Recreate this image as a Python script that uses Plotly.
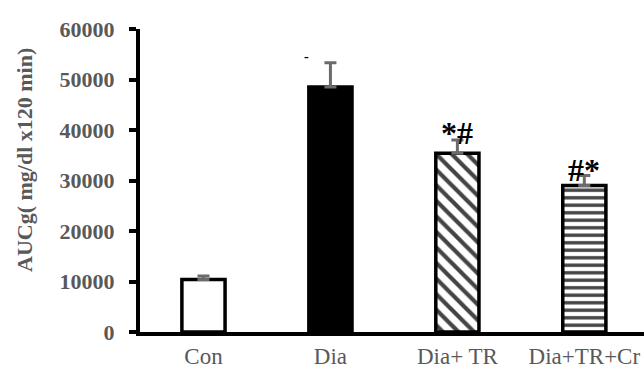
import plotly.graph_objects as go

categories = ["Con", "Dia", "Dia+ TR", "Dia+TR+Cr"]
values = [10400, 48500, 35400, 29000]
errors = [700, 4800, 2600, 2000]
marks = ["", "", "*#", "#*"]
y_ticks = [0, 10000, 20000, 30000, 40000, 50000, 60000]
y_tick_labels = ["0", "10000", "20000", "30000", "40000", "50000", "60000"]

fills = ["white", "black", "white", "white"]
shapes = ["", "", "\\", "-"]
psizes = [8, 8, 11, 7.5]
psolid = [0.4, 0.4, 0.38, 0.45]
mark_shift = [0, 0, 20, 16]

fig = go.Figure()
fig.add_trace(go.Bar(
    x=categories, y=values, width=0.34,
    marker=dict(color=fills, line=dict(color="black", width=3.5),
                pattern=dict(shape=shapes, size=psizes, solidity=psolid,
                             fgcolor="black", bgcolor="white", fgopacity=1, fillmode="overlay")),
    error_y=dict(type="data", array=errors, arrayminus=[0]*4, color="#6b6b6b",
                 thickness=3, width=6),
    showlegend=False,
))

gray = "#595959"
for c, v, m, s in zip(categories, values, marks, mark_shift):
    if m:
        fig.add_annotation(x=c, y=v, text="<b>" + m + "</b>", showarrow=False,
                           font=dict(family="Liberation Serif", size=32, color="black"),
                           yanchor="middle", yshift=s)
fig.add_annotation(x=categories[1], y=values[1] + errors[1] + 1200, text="<b>-</b>", showarrow=False,
                   font=dict(family="Liberation Serif", size=14, color="black"), xshift=-24)

fig.add_annotation(xref="paper", yref="paper", x=(24 - 140) / 504, y=(332 - 160) / 303,
                   text="<b>AUCg( mg/dl x120 min)</b>", textangle=-90, showarrow=False,
                   xanchor="center", yanchor="middle",
                   font=dict(family="Liberation Serif", size=22, color=gray))

fig.update_layout(
    width=644, height=369,
    margin=dict(l=140, r=0, t=29, b=37),
    paper_bgcolor="white", plot_bgcolor="white",
)
fig.update_xaxes(range=[-0.5, 3.47], showline=True, linecolor="black", linewidth=4,
                 ticks="", tickfont=dict(family="Liberation Serif", size=23, color=gray),
                 showgrid=False, zeroline=False)
fig.update_yaxes(range=[0, 60000], tickvals=y_ticks,
                 ticktext=["<b>" + t + "</b>" for t in y_tick_labels],
                 showline=True, linecolor="black", linewidth=4,
                 ticks="outside", ticklen=7, tickwidth=4, tickcolor="black",
                 tickfont=dict(family="Liberation Serif", size=22, color=gray),
                 ticklabelstandoff=10,
                 showgrid=False, zeroline=False)

fig.write_html("out.html")
